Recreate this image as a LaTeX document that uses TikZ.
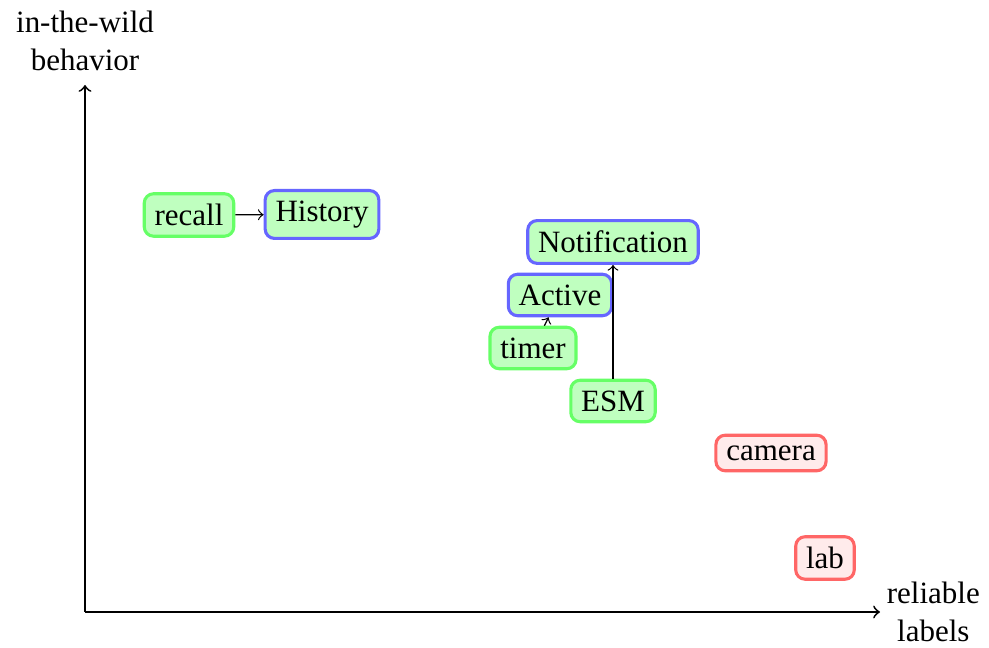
\documentclass[tikz,border=0pt]{standalone}
\usepackage{fontspec}
\setmainfont{Liberation Serif}
\begin{document}
\begin{tikzpicture}[x=0.3226pt, y=-0.3226pt,
  method/.style={draw=green!60, fill=green!25, line width=1pt, rounded corners=3pt},
  study/.style={draw=blue!60, fill=green!25, line width=1pt, rounded corners=3pt},
  lab setting/.style={draw=red!60, fill=red!8, line width=1pt, rounded corners=3pt},
  link/.style={->, thin},
  axis/.style={->, semithick}]
  \useasboundingbox (0,0) rectangle (989,648);
  % axes
  \coordinate (O) at (85,612);
  \coordinate (xend) at (880,612);
  \coordinate (yend) at (85,85);
  \draw[axis] (O) -- (xend);
  \draw[axis] (O) -- (yend);
  \node[align=center, anchor=west, inner sep=2pt] (xlab) at (xend) {reliable\\labels};
  \node[align=center, anchor=south, inner sep=2pt, yshift=2.5pt] (ylab) at (yend) {in-the-wild\\behavior};
  % collection methods
  \node[method] (recall) at (189,215) {recall};
  \node[study] (history) at (322,214.5) {History};
  \node[study] (notification) at (613,242) {Notification};
  \node[study] (active) at (560,295) {Active};
  \node[method] (timer) at (533,348) {timer};
  \node[method] (esm) at (613,401) {ESM};
  \node[lab setting] (camera) at (771,453) {camera};
  \node[lab setting] (lab) at (825,558) {lab};
  % links
  \draw[link] (recall) -- (history);
  \draw[link] (timer) -- (active);
  \draw[link] (esm) -- (notification);
\end{tikzpicture}
\end{document}
